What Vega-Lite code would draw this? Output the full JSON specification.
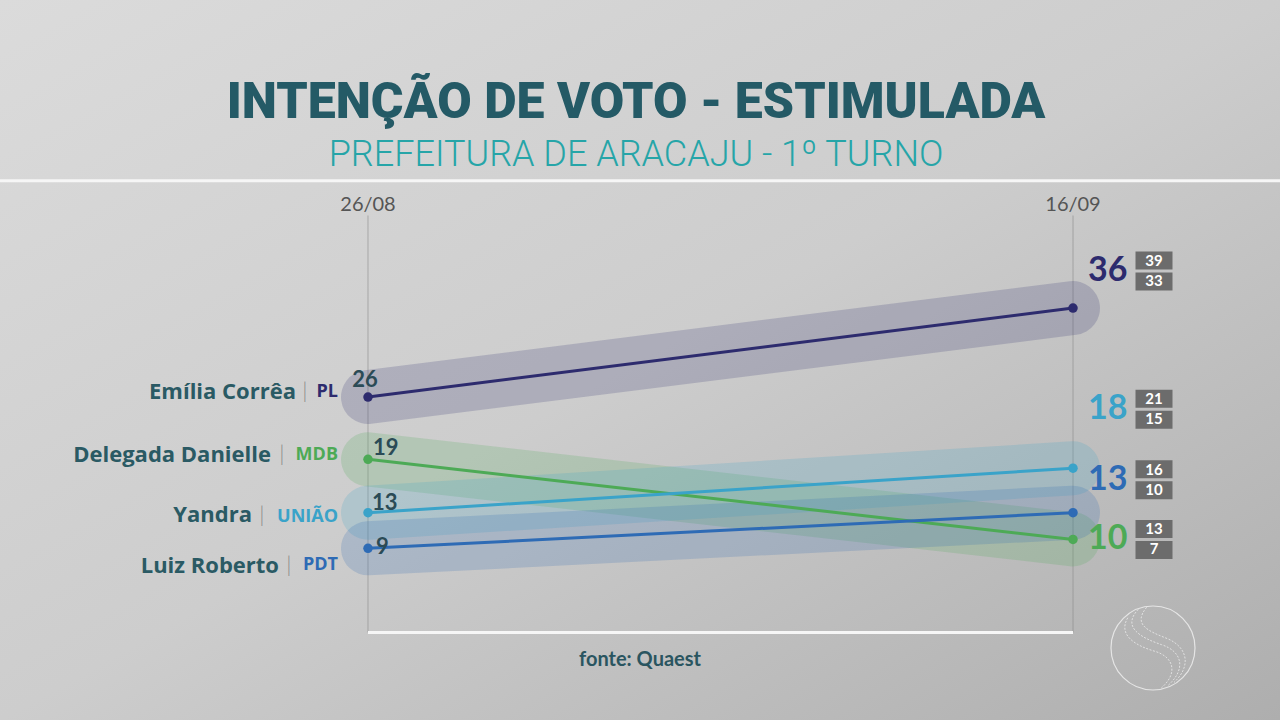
{
  "$schema": "https://vega.github.io/schema/vega-lite/v6.json",
  "width": 1280,
  "height": 720,
  "autosize": "none",
  "padding": 0,
  "background": "#cdcdcd",
  "config": {"view": {"stroke": null}},
  "datasets": {
    "pesquisa": [
      {"candidato": "Emília Corrêa", "partido": "PL", "data": "26/08", "valor": 26},
      {"candidato": "Emília Corrêa", "partido": "PL", "data": "16/09", "valor": 36, "max": 39, "min": 33},
      {"candidato": "Delegada Danielle", "partido": "MDB", "data": "26/08", "valor": 19},
      {"candidato": "Delegada Danielle", "partido": "MDB", "data": "16/09", "valor": 10, "max": 13, "min": 7},
      {"candidato": "Yandra", "partido": "UNIÃO", "data": "26/08", "valor": 13},
      {"candidato": "Yandra", "partido": "UNIÃO", "data": "16/09", "valor": 18, "max": 21, "min": 15},
      {"candidato": "Luiz Roberto", "partido": "PDT", "data": "26/08", "valor": 9},
      {"candidato": "Luiz Roberto", "partido": "PDT", "data": "16/09", "valor": 13, "max": 16, "min": 10}
    ],
    "datas": [{"data": "26/08"}, {"data": "16/09"}]
  },
  "layer": [
    {
      "data": {"values": [{}]},
      "mark": {"type": "rect", "color": {"gradient": "linear", "x1": 0, "y1": 0, "x2": 1, "y2": 1, "stops": [{"offset": 0, "color": "#dbdbdb"}, {"offset": 0.5, "color": "#cdcdcd"}, {"offset": 1, "color": "#aeaeae"}]}},
      "encoding": {}
    },
    {
      "data": {"values": [{}]},
      "mark": {"type": "rule", "color": "#f6f6f6", "strokeWidth": 3},
      "encoding": {"y": {"datum": 50.3, "type": "quantitative", "scale": {"domain": [-10.29, 70.61], "nice": false, "zero": false}, "axis": null}}
    },
    {
      "data": {"values": [{"texto": "INTENÇÃO DE VOTO - ESTIMULADA"}]},
      "mark": {"type": "text", "font": "Roboto", "fontWeight": 900, "fontSize": 50, "color": "#245a66", "dx": -4},
      "encoding": {"text": {"field": "texto"}, "y": {"datum": 59.03, "type": "quantitative", "scale": {"domain": [-10.29, 70.61], "nice": false, "zero": false}, "axis": null}}
    },
    {
      "data": {"values": [{"texto": "PREFEITURA DE ARACAJU - 1º TURNO"}]},
      "mark": {"type": "text", "font": "Roboto", "fontWeight": 300, "fontSize": 36, "color": "#26a5a8", "dx": -4},
      "encoding": {"text": {"field": "texto"}, "y": {"datum": 53.2, "type": "quantitative", "scale": {"domain": [-10.29, 70.61], "nice": false, "zero": false}, "axis": null}}
    },
    {
      "data": {"name": "datas"},
      "mark": {"type": "text", "font": "Lato", "fontWeight": 400, "fontSize": 20, "color": "#555555"},
      "encoding": {
        "text": {"field": "data"},
        "x": {"field": "data", "type": "ordinal", "scale": {"type": "point", "domain": ["26/08", "16/09"], "padding": 0.4078, "align": 0.64}, "axis": null},
        "y": {"datum": 47.57, "type": "quantitative", "scale": {"domain": [-10.29, 70.61], "nice": false, "zero": false}, "axis": null}
      }
    },
    {
      "data": {"name": "datas"},
      "mark": {"type": "rule", "color": "#8a8a8a", "strokeWidth": 1, "opacity": 0.6},
      "encoding": {
        "x": {"field": "data", "type": "ordinal", "scale": {"type": "point", "domain": ["26/08", "16/09"], "padding": 0.4078, "align": 0.64}, "axis": null},
        "y": {"datum": 46.4, "type": "quantitative", "scale": {"domain": [-10.29, 70.61], "nice": false, "zero": false}, "axis": null},
        "y2": {"datum": -0.45}
      }
    },
    {
      "data": {"values": [{}]},
      "mark": {"type": "rule", "color": "#f6f6f6", "strokeWidth": 3},
      "encoding": {
        "x": {"datum": "26/08", "type": "ordinal", "scale": {"type": "point", "domain": ["26/08", "16/09"], "padding": 0.4078, "align": 0.64}, "axis": null},
        "x2": {"datum": "16/09"},
        "y": {"datum": -0.45, "type": "quantitative", "scale": {"domain": [-10.29, 70.61], "nice": false, "zero": false}, "axis": null}
      }
    },
    {
      "data": {"values": [{"texto": "fonte: Quaest"}]},
      "mark": {"type": "text", "font": "Lato", "fontWeight": 700, "fontSize": 20, "color": "#2a5560"},
      "encoding": {"text": {"field": "texto"}, "y": {"datum": -3.55, "type": "quantitative", "scale": {"domain": [-10.29, 70.61], "nice": false, "zero": false}, "axis": null}}
    },
    {
      "data": {"values": [{}]},
      "mark": {"type": "point", "shape": "circle", "filled": false, "stroke": "#f2f2f2", "strokeWidth": 1.2, "opacity": 0.8, "size": 7056, "xOffset": 80},
      "encoding": {
        "x": {"datum": "16/09", "type": "ordinal", "scale": {"type": "point", "domain": ["26/08", "16/09"], "padding": 0.4078, "align": 0.64}, "axis": null},
        "y": {"datum": -2.2, "type": "quantitative", "scale": {"domain": [-10.29, 70.61], "nice": false, "zero": false}, "axis": null}
      }
    },
    {
      "data": {"values": [{}]},
      "mark": {"type": "point", "shape": "M-0.35,-0.92 C-0.75,-0.5 -0.3,-0.25 0.2,-0.08 C0.7,0.08 0.8,0.5 0.35,0.9 M-0.15,-0.97 C-0.5,-0.55 -0.1,-0.4 0.35,-0.22 C0.85,0.0 0.9,0.45 0.5,0.82 M-0.6,-0.72 C-0.85,-0.3 -0.4,-0.05 0.05,0.08 C0.5,0.22 0.6,0.6 0.2,0.95", "filled": false, "stroke": "#f2f2f2", "strokeWidth": 1, "strokeDash": [2, 1.5], "opacity": 0.75, "size": 7056, "xOffset": 80},
      "encoding": {
        "x": {"datum": "16/09", "type": "ordinal", "scale": {"type": "point", "domain": ["26/08", "16/09"], "padding": 0.4078, "align": 0.64}, "axis": null},
        "y": {"datum": -2.2, "type": "quantitative", "scale": {"domain": [-10.29, 70.61], "nice": false, "zero": false}, "axis": null}
      }
    },
    {
      "data": {"name": "pesquisa"},
      "encoding": {
        "x": {"field": "data", "type": "ordinal", "scale": {"type": "point", "domain": ["26/08", "16/09"], "padding": 0.4078, "align": 0.64}, "axis": null},
        "y": {"field": "valor", "type": "quantitative", "scale": {"domain": [-10.29, 70.61], "nice": false, "zero": false}, "axis": null},
        "color": {"field": "candidato", "type": "nominal", "scale": {"domain": ["Emília Corrêa", "Delegada Danielle", "Yandra", "Luiz Roberto"], "range": ["#2d2b6e", "#4daa56", "#3aa3c9", "#2e6bb5"]}, "legend": null}
      },
      "layer": [
        {"mark": {"type": "line", "strokeWidth": 54, "strokeCap": "round", "opacity": 0.2}},
        {"mark": {"type": "line", "strokeWidth": 3}},
        {"mark": {"type": "point", "filled": true, "size": 90, "opacity": 1}},
        {
          "transform": [{"filter": "datum.candidato === 'Emília Corrêa' && datum.data === '26/08'"}],
          "layer": [
            {"mark": {"type": "text", "align": "center", "dx": -3, "dy": -17, "font": "Lato", "fontSize": 22, "fontWeight": 700}, "encoding": {"text": {"field": "valor"}, "color": {"value": "#2b4b56"}}},
            {"mark": {"type": "text", "align": "right", "dx": -72, "dy": -5, "font": "Open Sans", "fontSize": 22, "fontWeight": 700}, "encoding": {"text": {"field": "candidato"}, "color": {"value": "#2a5a64"}}},
            {"mark": {"type": "text", "align": "center", "dx": -63, "dy": -6, "font": "Lato", "fontSize": 22, "fontWeight": 300}, "encoding": {"text": {"value": "|"}, "color": {"value": "#8a8a8a"}}},
            {"mark": {"type": "text", "align": "right", "dx": -30, "dy": -5, "font": "Open Sans", "fontSize": 18, "fontWeight": 700}, "encoding": {"text": {"field": "partido"}}}
          ]
        },
        {
          "transform": [{"filter": "datum.candidato === 'Delegada Danielle' && datum.data === '26/08'"}],
          "layer": [
            {"mark": {"type": "text", "align": "left", "dx": 5, "dy": -11, "font": "Lato", "fontSize": 22, "fontWeight": 700}, "encoding": {"text": {"field": "valor"}, "color": {"value": "#2b4b56"}}},
            {"mark": {"type": "text", "align": "right", "dx": -97, "dy": -4, "font": "Open Sans", "fontSize": 22, "fontWeight": 700}, "encoding": {"text": {"field": "candidato"}, "color": {"value": "#2a5a64"}}},
            {"mark": {"type": "text", "align": "center", "dx": -86, "dy": -5, "font": "Lato", "fontSize": 22, "fontWeight": 300}, "encoding": {"text": {"value": "|"}, "color": {"value": "#8a8a8a"}}},
            {"mark": {"type": "text", "align": "right", "dx": -30, "dy": -4, "font": "Open Sans", "fontSize": 18, "fontWeight": 700}, "encoding": {"text": {"field": "partido"}}}
          ]
        },
        {
          "transform": [{"filter": "datum.candidato === 'Yandra' && datum.data === '26/08'"}],
          "layer": [
            {"mark": {"type": "text", "align": "left", "dx": 4, "dy": -10, "font": "Lato", "fontSize": 22, "fontWeight": 700}, "encoding": {"text": {"field": "valor"}, "color": {"value": "#2b4b56"}}},
            {"mark": {"type": "text", "align": "right", "dx": -116, "dy": 2, "font": "Open Sans", "fontSize": 22, "fontWeight": 700}, "encoding": {"text": {"field": "candidato"}, "color": {"value": "#2a5a64"}}},
            {"mark": {"type": "text", "align": "center", "dx": -106, "dy": 2, "font": "Lato", "fontSize": 22, "fontWeight": 300}, "encoding": {"text": {"value": "|"}, "color": {"value": "#8a8a8a"}}},
            {"mark": {"type": "text", "align": "right", "dx": -30, "dy": 4, "font": "Open Sans", "fontSize": 18, "fontWeight": 700}, "encoding": {"text": {"field": "partido"}}}
          ]
        },
        {
          "transform": [{"filter": "datum.candidato === 'Luiz Roberto' && datum.data === '26/08'"}],
          "layer": [
            {"mark": {"type": "text", "align": "left", "dx": 8, "dy": -1, "font": "Lato", "fontSize": 22, "fontWeight": 700}, "encoding": {"text": {"field": "valor"}, "color": {"value": "#2b4b56"}}},
            {"mark": {"type": "text", "align": "right", "dx": -89, "dy": 18, "font": "Open Sans", "fontSize": 22, "fontWeight": 700}, "encoding": {"text": {"field": "candidato"}, "color": {"value": "#2a5a64"}}},
            {"mark": {"type": "text", "align": "center", "dx": -79, "dy": 17, "font": "Lato", "fontSize": 22, "fontWeight": 300}, "encoding": {"text": {"value": "|"}, "color": {"value": "#8a8a8a"}}},
            {"mark": {"type": "text", "align": "right", "dx": -30, "dy": 17, "font": "Open Sans", "fontSize": 18, "fontWeight": 700}, "encoding": {"text": {"field": "partido"}}}
          ]
        },
        {
          "transform": [{"filter": "datum.candidato === 'Emília Corrêa' && datum.data === '16/09'"}],
          "layer": [
            {"mark": {"type": "text", "align": "left", "dx": 15, "dy": -37, "font": "Lato", "fontSize": 34, "fontWeight": 700}, "encoding": {"text": {"field": "valor"}}},
            {"mark": {"type": "point", "shape": "M-1,-1.054H1V-0.081H-1Z M-1,0.081H1V1.054H-1Z", "filled": true, "size": 1369, "opacity": 1, "xOffset": 81, "yOffset": -37}, "encoding": {"color": {"value": "#6c6c6c"}}},
            {"mark": {"type": "text", "align": "center", "dx": 81, "dy": -47, "font": "Lato", "fontSize": 15, "fontWeight": 700}, "encoding": {"text": {"field": "max"}, "color": {"value": "#ffffff"}}},
            {"mark": {"type": "text", "align": "center", "dx": 81, "dy": -27, "font": "Lato", "fontSize": 15, "fontWeight": 700}, "encoding": {"text": {"field": "min"}, "color": {"value": "#ffffff"}}}
          ]
        },
        {
          "transform": [{"filter": "datum.candidato === 'Delegada Danielle' && datum.data === '16/09'"}],
          "layer": [
            {"mark": {"type": "text", "align": "left", "dx": 15, "dy": 0, "font": "Lato", "fontSize": 34, "fontWeight": 700}, "encoding": {"text": {"field": "valor"}}},
            {"mark": {"type": "point", "shape": "M-1,-1.054H1V-0.081H-1Z M-1,0.081H1V1.054H-1Z", "filled": true, "size": 1369, "opacity": 1, "xOffset": 81, "yOffset": 0}, "encoding": {"color": {"value": "#6c6c6c"}}},
            {"mark": {"type": "text", "align": "center", "dx": 81, "dy": -10, "font": "Lato", "fontSize": 15, "fontWeight": 700}, "encoding": {"text": {"field": "max"}, "color": {"value": "#ffffff"}}},
            {"mark": {"type": "text", "align": "center", "dx": 81, "dy": 10, "font": "Lato", "fontSize": 15, "fontWeight": 700}, "encoding": {"text": {"field": "min"}, "color": {"value": "#ffffff"}}}
          ]
        },
        {
          "transform": [{"filter": "datum.candidato === 'Yandra' && datum.data === '16/09'"}],
          "layer": [
            {"mark": {"type": "text", "align": "left", "dx": 15, "dy": -59, "font": "Lato", "fontSize": 34, "fontWeight": 700}, "encoding": {"text": {"field": "valor"}}},
            {"mark": {"type": "point", "shape": "M-1,-1.054H1V-0.081H-1Z M-1,0.081H1V1.054H-1Z", "filled": true, "size": 1369, "opacity": 1, "xOffset": 81, "yOffset": -59}, "encoding": {"color": {"value": "#6c6c6c"}}},
            {"mark": {"type": "text", "align": "center", "dx": 81, "dy": -69, "font": "Lato", "fontSize": 15, "fontWeight": 700}, "encoding": {"text": {"field": "max"}, "color": {"value": "#ffffff"}}},
            {"mark": {"type": "text", "align": "center", "dx": 81, "dy": -49, "font": "Lato", "fontSize": 15, "fontWeight": 700}, "encoding": {"text": {"field": "min"}, "color": {"value": "#ffffff"}}}
          ]
        },
        {
          "transform": [{"filter": "datum.candidato === 'Luiz Roberto' && datum.data === '16/09'"}],
          "layer": [
            {"mark": {"type": "text", "align": "left", "dx": 15, "dy": -33, "font": "Lato", "fontSize": 34, "fontWeight": 700}, "encoding": {"text": {"field": "valor"}}},
            {"mark": {"type": "point", "shape": "M-1,-1.054H1V-0.081H-1Z M-1,0.081H1V1.054H-1Z", "filled": true, "size": 1369, "opacity": 1, "xOffset": 81, "yOffset": -33}, "encoding": {"color": {"value": "#6c6c6c"}}},
            {"mark": {"type": "text", "align": "center", "dx": 81, "dy": -43, "font": "Lato", "fontSize": 15, "fontWeight": 700}, "encoding": {"text": {"field": "max"}, "color": {"value": "#ffffff"}}},
            {"mark": {"type": "text", "align": "center", "dx": 81, "dy": -23, "font": "Lato", "fontSize": 15, "fontWeight": 700}, "encoding": {"text": {"field": "min"}, "color": {"value": "#ffffff"}}}
          ]
        }
      ]
    }
  ]
}
